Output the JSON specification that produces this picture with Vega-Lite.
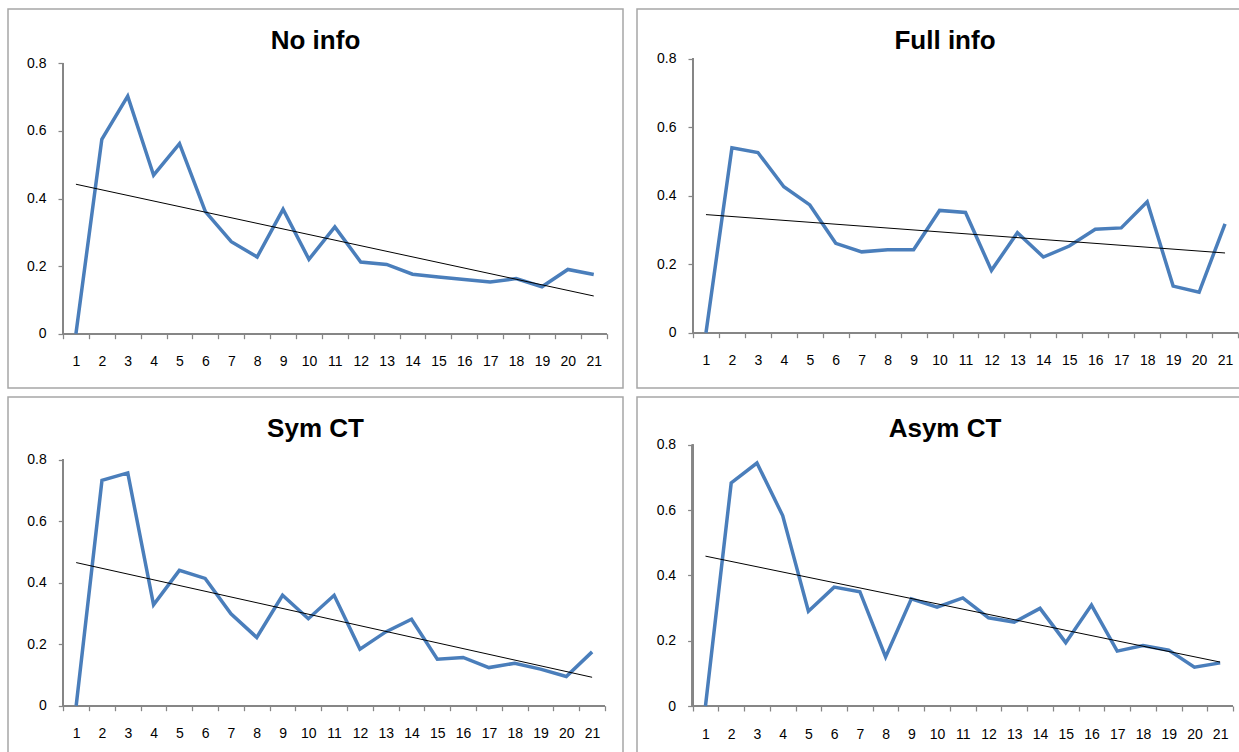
{
  "$schema": "https://vega.github.io/schema/vega-lite/v6.json",
  "padding": {"left": 7, "top": 8, "right": 0, "bottom": 0},
  "background": "white",
  "config": {
    "view": {"stroke": "#a6a6a6", "strokeWidth": 1.5},
    "axis": {"domain": false, "grid": false, "ticks": true, "tickColor": "#868686", "tickWidth": 1.25, "tickSize": 5, "labelColor": "#000000", "labelFont": "Liberation Sans", "labelFontSize": 14, "title": null, "labelFlush": false, "labelOverlap": false},
    "title": {"font": "Liberation Sans", "fontSize": 26, "fontWeight": "bold", "color": "#000000", "anchor": "middle", "frame": "group", "baseline": "alphabetic", "offset": -45}
  },
  "datasets": {
    "d": [
      {"panel": "No info", "x": 1, "v": 0}, {"panel": "No info", "x": 2, "v": 0.575}, {"panel": "No info", "x": 3, "v": 0.703}, {"panel": "No info", "x": 4, "v": 0.469}, {"panel": "No info", "x": 5, "v": 0.562}, {"panel": "No info", "x": 6, "v": 0.361}, {"panel": "No info", "x": 7, "v": 0.272}, {"panel": "No info", "x": 8, "v": 0.227}, {"panel": "No info", "x": 9, "v": 0.368}, {"panel": "No info", "x": 10, "v": 0.22}, {"panel": "No info", "x": 11, "v": 0.316}, {"panel": "No info", "x": 12, "v": 0.212}, {"panel": "No info", "x": 13, "v": 0.205}, {"panel": "No info", "x": 14, "v": 0.176}, {"panel": "No info", "x": 15, "v": 0.168}, {"panel": "No info", "x": 16, "v": 0.16}, {"panel": "No info", "x": 17, "v": 0.153}, {"panel": "No info", "x": 18, "v": 0.163}, {"panel": "No info", "x": 19, "v": 0.139}, {"panel": "No info", "x": 20, "v": 0.19}, {"panel": "No info", "x": 21, "v": 0.175},
      {"panel": "Full info", "x": 1, "v": 0}, {"panel": "Full info", "x": 2, "v": 0.54}, {"panel": "Full info", "x": 3, "v": 0.526}, {"panel": "Full info", "x": 4, "v": 0.426}, {"panel": "Full info", "x": 5, "v": 0.373}, {"panel": "Full info", "x": 6, "v": 0.261}, {"panel": "Full info", "x": 7, "v": 0.236}, {"panel": "Full info", "x": 8, "v": 0.242}, {"panel": "Full info", "x": 9, "v": 0.242}, {"panel": "Full info", "x": 10, "v": 0.357}, {"panel": "Full info", "x": 11, "v": 0.351}, {"panel": "Full info", "x": 12, "v": 0.182}, {"panel": "Full info", "x": 13, "v": 0.292}, {"panel": "Full info", "x": 14, "v": 0.221}, {"panel": "Full info", "x": 15, "v": 0.253}, {"panel": "Full info", "x": 16, "v": 0.302}, {"panel": "Full info", "x": 17, "v": 0.306}, {"panel": "Full info", "x": 18, "v": 0.382}, {"panel": "Full info", "x": 19, "v": 0.136}, {"panel": "Full info", "x": 20, "v": 0.118}, {"panel": "Full info", "x": 21, "v": 0.318},
      {"panel": "Sym CT", "x": 1, "v": 0}, {"panel": "Sym CT", "x": 2, "v": 0.733}, {"panel": "Sym CT", "x": 3, "v": 0.757}, {"panel": "Sym CT", "x": 4, "v": 0.328}, {"panel": "Sym CT", "x": 5, "v": 0.44}, {"panel": "Sym CT", "x": 6, "v": 0.414}, {"panel": "Sym CT", "x": 7, "v": 0.299}, {"panel": "Sym CT", "x": 8, "v": 0.222}, {"panel": "Sym CT", "x": 9, "v": 0.359}, {"panel": "Sym CT", "x": 10, "v": 0.283}, {"panel": "Sym CT", "x": 11, "v": 0.359}, {"panel": "Sym CT", "x": 12, "v": 0.184}, {"panel": "Sym CT", "x": 13, "v": 0.24}, {"panel": "Sym CT", "x": 14, "v": 0.281}, {"panel": "Sym CT", "x": 15, "v": 0.151}, {"panel": "Sym CT", "x": 16, "v": 0.157}, {"panel": "Sym CT", "x": 17, "v": 0.124}, {"panel": "Sym CT", "x": 18, "v": 0.138}, {"panel": "Sym CT", "x": 19, "v": 0.119}, {"panel": "Sym CT", "x": 20, "v": 0.095}, {"panel": "Sym CT", "x": 21, "v": 0.175},
      {"panel": "Asym CT", "x": 1, "v": 0}, {"panel": "Asym CT", "x": 2, "v": 0.683}, {"panel": "Asym CT", "x": 3, "v": 0.744}, {"panel": "Asym CT", "x": 4, "v": 0.583}, {"panel": "Asym CT", "x": 5, "v": 0.29}, {"panel": "Asym CT", "x": 6, "v": 0.364}, {"panel": "Asym CT", "x": 7, "v": 0.35}, {"panel": "Asym CT", "x": 8, "v": 0.15}, {"panel": "Asym CT", "x": 9, "v": 0.328}, {"panel": "Asym CT", "x": 10, "v": 0.303}, {"panel": "Asym CT", "x": 11, "v": 0.331}, {"panel": "Asym CT", "x": 12, "v": 0.27}, {"panel": "Asym CT", "x": 13, "v": 0.257}, {"panel": "Asym CT", "x": 14, "v": 0.299}, {"panel": "Asym CT", "x": 15, "v": 0.194}, {"panel": "Asym CT", "x": 16, "v": 0.309}, {"panel": "Asym CT", "x": 17, "v": 0.168}, {"panel": "Asym CT", "x": 18, "v": 0.185}, {"panel": "Asym CT", "x": 19, "v": 0.171}, {"panel": "Asym CT", "x": 20, "v": 0.119}, {"panel": "Asym CT", "x": 21, "v": 0.132}
    ]
  },
  "spacing": 7,
  "vconcat": [
    {
      "spacing": 12,
      "hconcat": [
        {
          "width": 615, "height": 379,
          "title": {"text": "No info"},
          "data": {"name": "d"},
          "transform": [{"filter": "datum.panel === 'No info'"}],
          "encoding": {
            "x": {"field": "x", "type": "quantitative", "scale": {"domain": [-1.624, 22.13], "nice": false, "zero": false},
              "axis": {"orient": "bottom", "offset": -54.3, "values": [0.5,1.5,2.5,3.5,4.5,5.5,6.5,7.5,8.5,9.5,10.5,11.5,12.5,13.5,14.5,15.5,16.5,17.5,18.5,19.5,20.5,21.5], "labelExpr": "datum.value < 21 ? format(datum.value + 0.5, 'd') : ''", "labelOffset": 12.95, "labelPadding": 16}},
            "y": {"field": "v", "type": "quantitative", "scale": {"domain": [-0.1607, 0.9607], "nice": false, "zero": false},
              "axis": {"orient": "left", "offset": -55, "values": [0, 0.2, 0.4, 0.6, 0.8], "format": "~g", "labelPadding": 12}}
          },
          "layer": [
            {"mark": {"type": "rule", "color": "#868686", "strokeWidth": 1.5}, "encoding": {"x": {"datum": 0.5, "type": "quantitative"}, "y": {"datum": 0, "type": "quantitative"}, "y2": {"datum": 0.8}}},
            {"mark": {"type": "rule", "color": "#868686", "strokeWidth": 1.5}, "encoding": {"y": {"datum": 0, "type": "quantitative"}, "x": {"datum": 0.5, "type": "quantitative"}, "x2": {"datum": 21.5}}},
            {"mark": {"type": "line", "color": "#4a7ebb", "strokeWidth": 3.5, "strokeJoin": "miter"}},
            {"transform": [{"regression": "v", "on": "x"}], "mark": {"type": "line", "color": "#000000", "strokeWidth": 1}}
          ]
        },
        {
          "width": 608, "height": 379,
          "title": {"text": "Full info", "dx": 4},
          "data": {"name": "d"},
          "transform": [{"filter": "datum.panel === 'Full info'"}],
          "encoding": {
            "x": {"field": "x", "type": "quantitative", "scale": {"domain": [-1.658, 21.769], "nice": false, "zero": false},
              "axis": {"orient": "bottom", "offset": -55.3, "values": [0.5,1.5,2.5,3.5,4.5,5.5,6.5,7.5,8.5,9.5,10.5,11.5,12.5,13.5,14.5,15.5,16.5,17.5,18.5,19.5,20.5,21.5], "labelExpr": "datum.value < 21 ? format(datum.value + 0.5, 'd') : ''", "labelOffset": 12.97, "labelPadding": 16}},
            "y": {"field": "v", "type": "quantitative", "scale": {"domain": [-0.1615, 0.9451], "nice": false, "zero": false},
              "axis": {"orient": "left", "offset": -56, "values": [0, 0.2, 0.4, 0.6, 0.8], "format": "~g", "labelPadding": 12}}
          },
          "layer": [
            {"mark": {"type": "rule", "color": "#868686", "strokeWidth": 1.5}, "encoding": {"x": {"datum": 0.5, "type": "quantitative"}, "y": {"datum": 0, "type": "quantitative"}, "y2": {"datum": 0.8}}},
            {"mark": {"type": "rule", "color": "#868686", "strokeWidth": 1.5}, "encoding": {"y": {"datum": 0, "type": "quantitative"}, "x": {"datum": 0.5, "type": "quantitative"}, "x2": {"datum": 21.5}}},
            {"mark": {"type": "line", "color": "#4a7ebb", "strokeWidth": 3.5, "strokeJoin": "miter"}},
            {"transform": [{"regression": "v", "on": "x"}], "mark": {"type": "line", "color": "#000000", "strokeWidth": 1}}
          ]
        }
      ]
    },
    {
      "spacing": 12,
      "hconcat": [
        {
          "width": 615, "height": 379,
          "title": {"text": "Sym CT"},
          "data": {"name": "d"},
          "transform": [{"filter": "datum.panel === 'Sym CT'"}],
          "encoding": {
            "x": {"field": "x", "type": "quantitative", "scale": {"domain": [-1.643, 22.198], "nice": false, "zero": false},
              "axis": {"orient": "bottom", "offset": -70.3, "values": [0.5,1.5,2.5,3.5,4.5,5.5,6.5,7.5,8.5,9.5,10.5,11.5,12.5,13.5,14.5,15.5,16.5,17.5,18.5,19.5,20.5,21.5], "labelExpr": "datum.value < 21 ? format(datum.value + 0.5, 'd') : ''", "labelOffset": 12.9, "labelPadding": 16}},
            "y": {"field": "v", "type": "quantitative", "scale": {"domain": [-0.2286, 1.0039], "nice": false, "zero": false},
              "axis": {"orient": "left", "offset": -55.3, "values": [0, 0.2, 0.4, 0.6, 0.8], "format": "~g", "labelPadding": 12}}
          },
          "layer": [
            {"mark": {"type": "rule", "color": "#868686", "strokeWidth": 1.5}, "encoding": {"x": {"datum": 0.5, "type": "quantitative"}, "y": {"datum": 0, "type": "quantitative"}, "y2": {"datum": 0.8}}},
            {"mark": {"type": "rule", "color": "#868686", "strokeWidth": 1.5}, "encoding": {"y": {"datum": 0, "type": "quantitative"}, "x": {"datum": 0.5, "type": "quantitative"}, "x2": {"datum": 21.5}}},
            {"mark": {"type": "line", "color": "#4a7ebb", "strokeWidth": 3.5, "strokeJoin": "miter"}},
            {"transform": [{"regression": "v", "on": "x"}], "mark": {"type": "line", "color": "#000000", "strokeWidth": 1}}
          ]
        },
        {
          "width": 608, "height": 379,
          "title": {"text": "Asym CT", "dx": 4},
          "data": {"name": "d"},
          "transform": [{"filter": "datum.panel === 'Asym CT'"}],
          "encoding": {
            "x": {"field": "x", "type": "quantitative", "scale": {"domain": [-1.661, 21.966], "nice": false, "zero": false},
              "axis": {"orient": "bottom", "offset": -70, "values": [0.5,1.5,2.5,3.5,4.5,5.5,6.5,7.5,8.5,9.5,10.5,11.5,12.5,13.5,14.5,15.5,16.5,17.5,18.5,19.5,20.5,21.5], "labelExpr": "datum.value < 21 ? format(datum.value + 0.5, 'd') : ''", "labelOffset": 12.87, "labelPadding": 16}},
            "y": {"field": "v", "type": "quantitative", "scale": {"domain": [-0.2143, 0.9461], "nice": false, "zero": false},
              "axis": {"orient": "left", "offset": -55.6, "values": [0, 0.2, 0.4, 0.6, 0.8], "format": "~g", "labelPadding": 12}}
          },
          "layer": [
            {"mark": {"type": "rule", "color": "#868686", "strokeWidth": 1.5}, "encoding": {"x": {"datum": 0.5, "type": "quantitative"}, "y": {"datum": 0, "type": "quantitative"}, "y2": {"datum": 0.8}}},
            {"mark": {"type": "rule", "color": "#868686", "strokeWidth": 1.5}, "encoding": {"y": {"datum": 0, "type": "quantitative"}, "x": {"datum": 0.5, "type": "quantitative"}, "x2": {"datum": 21.5}}},
            {"mark": {"type": "line", "color": "#4a7ebb", "strokeWidth": 3.5, "strokeJoin": "miter"}},
            {"transform": [{"regression": "v", "on": "x"}], "mark": {"type": "line", "color": "#000000", "strokeWidth": 1}}
          ]
        }
      ]
    }
  ]
}
